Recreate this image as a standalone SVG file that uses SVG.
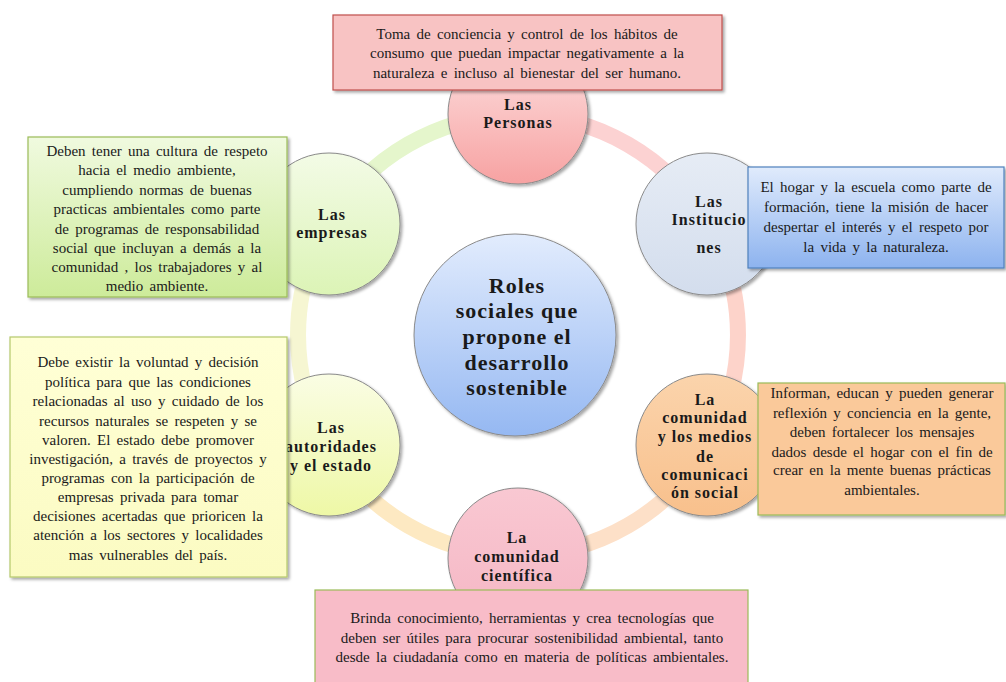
<svg xmlns="http://www.w3.org/2000/svg" width="1006" height="682" viewBox="0 0 1006 682">
<defs>
<style>
.ring{fill:none;stroke-width:16;stroke-linecap:butt}
.node{stroke:#8a8a8a;stroke-width:1}
.lbl{font-family:"Liberation Serif",serif;font-weight:bold;font-size:16px;letter-spacing:1px;fill:#1a1a1a;text-anchor:middle}
.ctr{font-family:"Liberation Serif",serif;font-weight:bold;font-size:22px;letter-spacing:1px;fill:#1a1a1a;text-anchor:middle}
.box{stroke-width:1.2}
.txt{font-family:"Liberation Serif",serif;font-size:15px;word-spacing:2.5px;fill:#1a1a1a;text-anchor:middle}
</style>
<filter id="sh" x="-10%" y="-10%" width="125%" height="125%">
<feDropShadow dx="2" dy="2" stdDeviation="1.5" flood-color="#000" flood-opacity="0.35"/>
</filter>
<linearGradient id="gPer" x1="0" y1="0" x2="0" y2="1"><stop offset="0" stop-color="#fde2e2"/><stop offset="1" stop-color="#f7a2a2"/></linearGradient>
<linearGradient id="gIns" x1="0" y1="0" x2="0" y2="1"><stop offset="0" stop-color="#e6ecf5"/><stop offset="1" stop-color="#d3dded"/></linearGradient>
<linearGradient id="gMed" x1="0" y1="0" x2="0" y2="1"><stop offset="0" stop-color="#fbd4ac"/><stop offset="1" stop-color="#f8c08c"/></linearGradient>
<linearGradient id="gCie" x1="0" y1="0" x2="0" y2="1"><stop offset="0" stop-color="#f9c8d2"/><stop offset="1" stop-color="#f5b6c4"/></linearGradient>
<linearGradient id="gAut" x1="0" y1="0" x2="0" y2="1"><stop offset="0" stop-color="#fafde4"/><stop offset="1" stop-color="#eef8a6"/></linearGradient>
<linearGradient id="gEmp" x1="0" y1="0" x2="0" y2="1"><stop offset="0" stop-color="#f3fbe6"/><stop offset="1" stop-color="#dcf4b6"/></linearGradient>
<linearGradient id="gCtr" x1="0" y1="0" x2="0" y2="1"><stop offset="0" stop-color="#e2ecfd"/><stop offset="1" stop-color="#95b8f2"/></linearGradient>
<linearGradient id="bEmp" x1="0" y1="0" x2="0" y2="1"><stop offset="0" stop-color="#f0fadf"/><stop offset="1" stop-color="#cdeb9a"/></linearGradient>
<linearGradient id="bIns" x1="0" y1="0" x2="0" y2="1"><stop offset="0" stop-color="#e0ebfc"/><stop offset="1" stop-color="#8db3ef"/></linearGradient>
<linearGradient id="bAut" x1="0" y1="0" x2="0" y2="1"><stop offset="0" stop-color="#ffffd6"/><stop offset="1" stop-color="#fbfbc2"/></linearGradient>
</defs>
<rect width="1006" height="682" fill="#ffffff"/>

<g id="connectors">
<path class="ring" stroke="#fcd2d2" d="M518 115 A220 220 0 0 1 708.5 225"/>
<path class="ring" stroke="#fdd3ca" d="M708.5 225 A220 220 0 0 1 708.5 445"/>
<path class="ring" stroke="#fde0c8" d="M708.5 445 A220 220 0 0 1 518 555"/>
<path class="ring" stroke="#fde9c2" d="M518 555 A220 220 0 0 1 327.5 445"/>
<path class="ring" stroke="#f6f6d2" d="M327.5 445 A220 220 0 0 1 327.5 225"/>
<path class="ring" stroke="#e5f6cc" d="M327.5 225 A220 220 0 0 1 518 115"/>
</g>

<g id="center">
<circle class="node" cx="515" cy="335" r="101" fill="url(#gCtr)" filter="url(#sh)"/>
<text class="ctr" x="517" y="293">Roles</text>
<text class="ctr" x="517" y="318">sociales  que</text>
<text class="ctr" x="517" y="344">propone el</text>
<text class="ctr" x="517" y="370">desarrollo</text>
<text class="ctr" x="517" y="395">sostenible</text>
</g>

<g id="n-personas">
<circle class="node" cx="518" cy="114" r="70" fill="url(#gPer)" filter="url(#sh)"/>
<text class="lbl" x="518" y="110">Las</text>
<text class="lbl" x="518" y="128">Personas</text>
</g>

<g id="n-instituciones">
<circle class="node" cx="707" cy="224" r="71" fill="url(#gIns)" filter="url(#sh)"/>
<text class="lbl" x="709" y="207">Las</text>
<text class="lbl" x="709" y="225">Institucio</text>
<text class="lbl" x="709" y="253">nes</text>
</g>

<g id="n-medios">
<circle class="node" cx="707" cy="445" r="71" fill="url(#gMed)" filter="url(#sh)"/>
<text class="lbl" x="705" y="405">La</text>
<text class="lbl" x="705" y="423">comunidad</text>
<text class="lbl" x="705" y="442">y los medios</text>
<text class="lbl" x="705" y="462">de</text>
<text class="lbl" x="705" y="480">comunicaci</text>
<text class="lbl" x="705" y="498">ón social</text>
</g>

<g id="n-cientifica">
<circle class="node" cx="518" cy="558" r="70" fill="url(#gCie)" filter="url(#sh)"/>
<text class="lbl" x="517" y="543">La</text>
<text class="lbl" x="517" y="562">comunidad</text>
<text class="lbl" x="517" y="581">científica</text>
</g>

<g id="n-autoridades">
<circle class="node" cx="329" cy="445" r="71" fill="url(#gAut)" filter="url(#sh)"/>
<text class="lbl" x="331" y="433">Las</text>
<text class="lbl" x="331" y="452">autoridades</text>
<text class="lbl" x="331" y="471">y el estado</text>
</g>

<g id="n-empresas">
<circle class="node" cx="329" cy="224" r="71" fill="url(#gEmp)" filter="url(#sh)"/>
<text class="lbl" x="332" y="220">Las</text>
<text class="lbl" x="332" y="238">empresas</text>
</g>

<g id="b-personas">
<rect class="box" x="333" y="15" width="389" height="75" fill="#f8c3c3" stroke="#c0504d" filter="url(#sh)"/>
<text class="txt" x="527" y="39">Toma de conciencia  y control de los hábitos de</text>
<text class="txt" x="527" y="58">consumo que puedan impactar  negativamente  a la</text>
<text class="txt" x="527" y="78">naturaleza e incluso al bienestar del ser humano.</text>
</g>

<g id="b-empresas">
<rect class="box" x="28" y="137" width="259" height="160" fill="url(#bEmp)" stroke="#9bbb59" filter="url(#sh)"/>
<text class="txt" x="157" y="156">Deben tener una  cultura de respeto</text>
<text class="txt" x="157" y="175">hacia el medio ambiente,</text>
<text class="txt" x="157" y="195">cumpliendo normas de buenas</text>
<text class="txt" x="157" y="214">practicas ambientales  como parte</text>
<text class="txt" x="157" y="234">de programas de responsabilidad</text>
<text class="txt" x="157" y="253">social que incluyan a demás a la</text>
<text class="txt" x="157" y="272">comunidad , los trabajadores  y al</text>
<text class="txt" x="157" y="291">medio ambiente.</text>
</g>

<g id="b-instituciones">
<rect class="box" x="748" y="167" width="256" height="101" fill="url(#bIns)" stroke="#4f81bd" filter="url(#sh)"/>
<text class="txt" x="876" y="192">El hogar y la escuela como parte de</text>
<text class="txt" x="876" y="212">formación, tiene la misión de hacer</text>
<text class="txt" x="876" y="232">despertar el interés y el respeto por</text>
<text class="txt" x="876" y="252">la vida y la naturaleza.</text>
</g>

<g id="b-autoridades">
<rect class="box" x="10" y="337" width="277" height="240" fill="url(#bAut)" stroke="#b5c86c" filter="url(#sh)"/>
<text class="txt" x="148" y="367">Debe existir la voluntad y decisión</text>
<text class="txt" x="148" y="387">política para que las condiciones</text>
<text class="txt" x="148" y="406">relacionadas al uso y cuidado de los</text>
<text class="txt" x="148" y="426">recursos naturales se respeten y se</text>
<text class="txt" x="148" y="445">valoren. El estado debe promover</text>
<text class="txt" x="148" y="464">investigación, a través de proyectos y</text>
<text class="txt" x="148" y="483">programas con la participación de</text>
<text class="txt" x="148" y="502">empresas privada para tomar</text>
<text class="txt" x="148" y="521">decisiones acertadas que prioricen la</text>
<text class="txt" x="148" y="540">atención a los sectores y localidades</text>
<text class="txt" x="148" y="560">mas vulnerables del país.</text>
</g>

<g id="b-medios">
<rect class="box" x="758" y="383" width="247" height="132" fill="#fac99a" stroke="#9bbb59" filter="url(#sh)"/>
<text class="txt" x="882" y="398">Informan, educan y pueden generar</text>
<text class="txt" x="882" y="418">reflexión y conciencia  en la gente,</text>
<text class="txt" x="882" y="437">deben fortalecer los mensajes</text>
<text class="txt" x="882" y="457">dados desde el hogar con el fin de</text>
<text class="txt" x="882" y="475">crear en la mente buenas prácticas</text>
<text class="txt" x="882" y="495">ambientales.</text>
</g>

<g id="b-cientifica">
<rect class="box" x="315" y="590" width="433" height="100" fill="#f8bcc8" stroke="#9bbb59"/>
<text class="txt" x="532" y="623">Brinda conocimiento,  herramientas  y crea tecnologías que</text>
<text class="txt" x="532" y="643">deben ser útiles para procurar sostenibilidad ambiental, tanto</text>
<text class="txt" x="532" y="662">desde la ciudadanía como en materia de políticas ambientales.</text>
</g>
</svg>
